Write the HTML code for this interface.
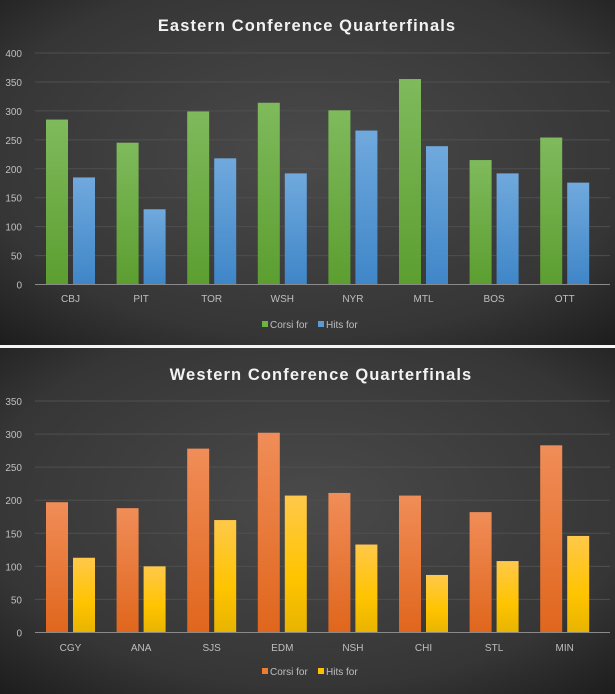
<!DOCTYPE html>
<html><head><meta charset="utf-8"><style>
body{margin:0;background:#000;}
svg{display:block;font-family:"Liberation Sans",sans-serif;}
</style></head><body>
<svg width="615" height="694" viewBox="0 0 615 694" xmlns="http://www.w3.org/2000/svg">
<defs>
<radialGradient id="bg" cx="0.5" cy="0.45" r="0.75">
<stop offset="0" stop-color="#4a4a4a"/><stop offset="0.7" stop-color="#363636"/><stop offset="1" stop-color="#1c1c1c"/></radialGradient>
<linearGradient id="gG" x1="0" y1="0" x2="0" y2="1"><stop offset="0" stop-color="#7fba5c"/><stop offset="1" stop-color="#5c9e30"/></linearGradient>
<linearGradient id="gB" x1="0" y1="0" x2="0" y2="1"><stop offset="0" stop-color="#70a9dd"/><stop offset="1" stop-color="#3f86c8"/></linearGradient>
<linearGradient id="gO" x1="0" y1="0" x2="0" y2="1"><stop offset="0" stop-color="#f08d58"/><stop offset="1" stop-color="#e0661c"/></linearGradient>
<linearGradient id="gY" x1="0" y1="0" x2="0" y2="1"><stop offset="0" stop-color="#ffc84a"/><stop offset="0.6" stop-color="#ffc400"/><stop offset="1" stop-color="#e8b400"/></linearGradient>
</defs>
<rect x="0" y="0" width="615" height="345" fill="url(#bg)"/>
<rect x="0" y="348" width="615" height="346" fill="url(#bg)"/>
<rect x="0" y="345" width="615" height="3" fill="#f4f4f4"/>
<g id="top"></g><g id="bot"></g>
<text x="307" y="31" text-anchor="middle" fill="#f2f2f2" font-size="16.5" font-weight="bold" letter-spacing="1.1">Eastern Conference Quarterfinals</text>
<text x="321" y="380" text-anchor="middle" fill="#f2f2f2" font-size="16.5" font-weight="bold" letter-spacing="1.1">Western Conference Quarterfinals</text>
<rect x="262" y="321" width="6" height="6" fill="#6db33f"/><text x="270" y="328" fill="#bfbfbf" font-size="10">Corsi for</text>
<rect x="318" y="321" width="6" height="6" fill="#5b9bd5"/><text x="326" y="328" fill="#bfbfbf" font-size="10">Hits for</text>
<rect x="262" y="668" width="6" height="6" fill="#ed7d31"/><text x="270" y="675" fill="#bfbfbf" font-size="10">Corsi for</text>
<rect x="318" y="668" width="6" height="6" fill="#ffc000"/><text x="326" y="675" fill="#bfbfbf" font-size="10">Hits for</text>
</svg>
<script>
function build(id,y0,ymaxPx,max,step,cats,a,b,ga,gb,ly){
 const g=document.getElementById(id);let s='';const k=(y0-ymaxPx)/max;
 for(let v=0;v<=max;v+=step){const y=y0-v*k;
  if(v>0)s+=`<line x1="35" x2="610" y1="${y}" y2="${y}" stroke="#4f4f4f" stroke-width="1"/>`;
  s+=`<text x="22" y="${y+4}" text-anchor="end" fill="#bfbfbf" font-size="10">${v}</text>`;}
 cats.forEach((c,i)=>{const cx=70.5+70.6*i;
  s+=`<rect x="${cx-24.5}" y="${y0-a[i]*k}" width="22" height="${a[i]*k}" fill="url(#${ga})"/>`;
  s+=`<rect x="${cx+2.5}" y="${y0-b[i]*k}" width="22" height="${b[i]*k}" fill="url(#${gb})"/>`;
  s+=`<text x="${cx}" y="${ly}" text-anchor="middle" fill="#bfbfbf" font-size="10">${c}</text>`;});
 s+=`<line x1="35" x2="610" y1="${y0}" y2="${y0}" stroke="#8a8a8a" stroke-width="1"/>`;
 g.innerHTML=s;}
build('top',284.5,53,400,50,['CBJ','PIT','TOR','WSH','NYR','MTL','BOS','OTT'],
 [285,245,299,314,301,355,215,254],[185,130,218,192,266,239,192,176],'gG','gB',302);
build('bot',632.5,401,350,50,['CGY','ANA','SJS','EDM','NSH','CHI','STL','MIN'],
 [197,188,278,302,211,207,182,283],[113,100,170,207,133,87,108,146],'gO','gY',651);
</script>
</body></html>
